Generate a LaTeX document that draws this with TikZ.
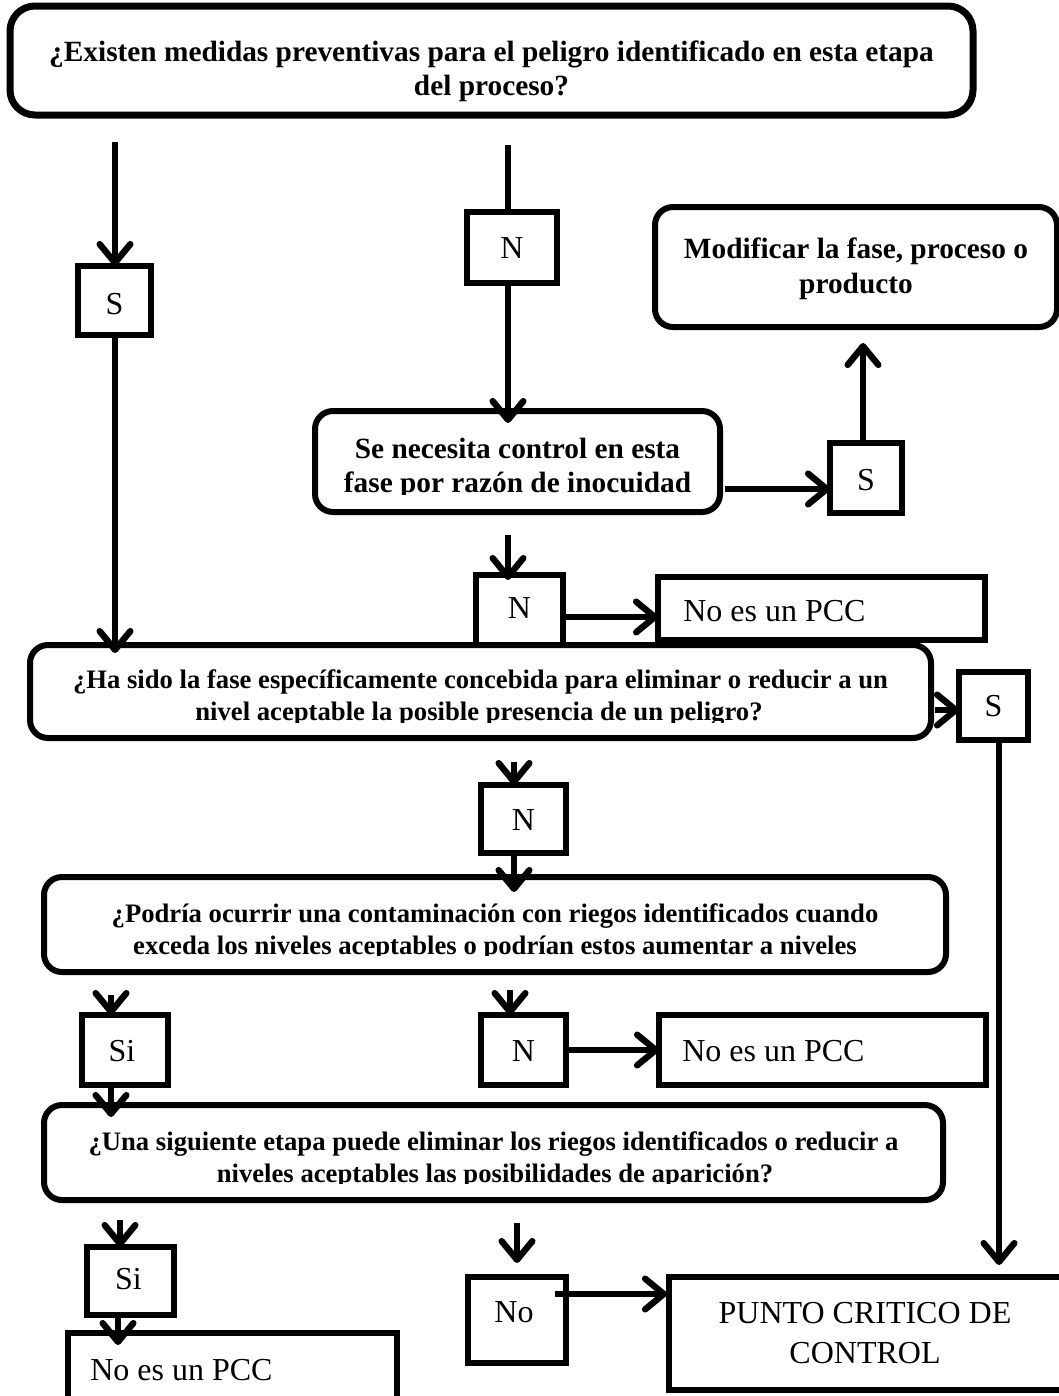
\documentclass[tikz,border=0pt]{standalone}
\usepackage{fontspec}
\setmainfont{Liberation Serif}
\usetikzlibrary{arrows.meta,calc,fit}
\begin{document}
\begin{tikzpicture}[x=0.75pt,y=-0.75pt,
  rbox/.style={draw, line width=4.5pt, rounded corners=13.5pt, inner sep=0pt, outer sep=0pt},
  sbox/.style={draw, line width=4.8pt, inner sep=0pt, outer sep=0pt},
  boxlbl/.style={inner sep=0pt, font=\fontsize{24}{28}\selectfont},
  qtext/.style={anchor=base, inner sep=0pt, font=\bfseries\fontsize{22}{26}\selectfont},
  qtextsm/.style={anchor=base, inner sep=0pt, font=\bfseries\fontsize{20}{24}\selectfont},
  pcctext/.style={anchor=west, inner sep=0pt, font=\fontsize{24}{28}\selectfont},
  conn/.style={line width=3.9pt},
  arr/.style={conn, -{Straight Barb[length=14pt,width=23pt,line width=4.8pt,round]}},
]
\fill[white] (0,0) rectangle (1059,1396);
\clip (0,0) rectangle (1059,1396);

% ---- boxes ----
\node[rbox, line width=5.25pt, rounded corners=18.75pt, fit={(10,6) (973,115)}] (q1) {};
\node[rbox, fit={(655,207) (1057,327)}] (m) {};
\node[rbox, fit={(315,411) (720,512)}] (q2) {};
\node[sbox, fit={(78,266) (151,335)}] (s1) {};
\node[sbox, fit={(467,212) (557,283)}] (n1) {};
\node[sbox, fit={(830,443) (902,513)}] (s2) {};
\node[sbox, fit={(476,575) (563,645)}] (n2) {};
\node[sbox, line width=3.9pt, fit={(658,577) (985,640)}] (p1) {};
\node[rbox, fit={(30,645) (931,738)}] (q3) {};
\node[sbox, fit={(959,672) (1028,740)}] (s3) {};
\node[sbox, fit={(481,785) (566,853)}] (n3) {};
\node[rbox, fit={(44,877) (946,972)}] (q4) {};
\node[sbox, fit={(82,1015) (168,1085)}] (si1) {};
\node[sbox, fit={(481,1015) (566,1085)}] (n4) {};
\node[sbox, line width=3.9pt, fit={(659,1015) (986,1085)}] (p2) {};
\node[rbox, fit={(44,1105) (943,1200)}] (q5) {};
\node[sbox, fit={(87,1247) (174,1315)}] (si2) {};
\node[sbox, fit={(468,1277) (566,1363)}] (no) {};
\node[sbox, fit={(68,1333) (397,1410)}] (p3) {};
\node[sbox, fit={(669,1277) (1075,1390)}] (pc) {};

% ---- small box labels ----
\node[boxlbl] (s1t) at ($(s1.center)+(0,4)$) {S};
\node[boxlbl] (n1t) at ($(n1.center)+(0,1)$) {N};
\node[boxlbl] (s2t) at ($(s2.center)+(0,2)$) {S};
\node[boxlbl] (n2t) at ($(n2.center)+(0,-2)$) {N};
\node[boxlbl] (s3t) at ($(s3.center)+(0,0)$) {S};
\node[boxlbl] (n3t) at ($(n3.center)+(0,1)$) {N};
\node[boxlbl] (si1t) at ($(si1.center)+(-3,1)$) {Si};
\node[boxlbl] (n4t) at ($(n4.center)+(0,1)$) {N};
\node[boxlbl] (si2t) at ($(si2.center)+(-2,-2)$) {Si};
\node[boxlbl] (not) at ($(no.center)+(-3,-8)$) {No};

% ---- texts ----
\node[qtext] (q1a) at (491.5,61) {¿Existen medidas preventivas para el peligro identificado en esta etapa};
\node[qtext] (q1b) at (491.5,95) {del proceso?};
\node[qtext] (ma) at (856,258) {Modificar la fase, proceso o};
\node[qtext] (mb) at (856,293) {producto};
\begin{scope}
  \clip (0,0) rectangle (1059,494);
  \node[qtext] (q2a) at (517.5,458) {Se necesita control en esta};
  \node[qtext] (q2b) at (517.5,492) {fase por razón de inocuidad};
\end{scope}
\node[pcctext] (p1t) at ($(p1.west)+(25,3)$) {No es un PCC};
\begin{scope}
  \clip (0,0) rectangle (1059,722);
  \node[qtextsm] (q3a) at (480.5,688) {¿Ha sido la fase específicamente concebida para eliminar o reducir a un};
  \node[qtextsm] (q3b) at (479,720) {nivel aceptable la posible presencia de un peligro?};
\end{scope}
\begin{scope}
  \clip (0,0) rectangle (1059,955);
  \node[qtextsm] (q4a) at (495,922) {¿Podría ocurrir una contaminación con riegos identificados cuando};
  \node[qtextsm] (q4b) at (495,954) {exceda los niveles aceptables o podrían estos aumentar a niveles};
\end{scope}
\node[pcctext] (p2t) at ($(p2.west)+(23,1)$) {No es un PCC};
\begin{scope}
  \clip (0,0) rectangle (1059,1183);
  \node[qtextsm] (q5a) at (493.5,1150) {¿Una siguiente etapa puede eliminar los riegos identificados o reducir a};
  \node[qtextsm] (q5b) at (495,1182) {niveles aceptables las posibilidades de aparición?};
\end{scope}
\node[pcctext, anchor=base west] (p3t) at (90,1380) {No es un PCC};
\node[pcctext, anchor=base] (pca) at (865,1323) {PUNTO CRITICO DE};
\node[pcctext, anchor=base] (pcb) at (865,1363) {CONTROL};

% ---- connectors ----
\draw[arr] ($(q1.south -| s1.north)+(0.5,27)$) -- ($(s1.north)+(0.5,0)$);
\draw[arr] ($(s1.south)+(0.5,0)$) -- ($(s1.south |- q3.north)+(0.5,8)$);
\draw[conn] ($(n1.north |- q1.south)+(-4,30)$) -- ($(n1.north)+(-4,0)$);
\draw[arr] ($(n1.south)+(-4,0)$) -- ($(n1.south |- q2.north)+(-4,12)$);
\draw[arr] ($(q2.east)+(5,27.5)$) -- ($(s2.west)+(0,11)$);
\draw[arr] ($(s2.north)+(-3,0)$) -- ($(m.south)+(7,16)$);
\draw[arr] ($(n2.north |- q2.south)+(-11.5,23)$) -- ($(n2.north)+(-11.5,5)$);
\draw[arr] ($(n2.east)+(0,7)$) -- ($(p1.west)+(0,8.5)$);
\draw[arr] ($(q3.east)+(4,18.5)$) -- ($(s3.west)+(0,4)$);
\draw[arr] ($(s3.south)+(5.5,0)$) -- ($(s3.south |- pc.north)+(5.5,-12)$);
\draw[arr] ($(n3.north |- q3.south)+(-9.5,24)$) -- ($(n3.north)+(-9.5,0)$);
\draw[arr] ($(n3.south)+(-9.5,0)$) -- ($(n3.south |- q4.north)+(-9.5,15)$);
\draw[arr] ($(si1.north |- q4.south)+(-14,23)$) -- ($(si1.north)+(-14,0)$);
\draw[arr] ($(si1.south)+(-14,0)$) -- ($(si1.south |- q5.north)+(-14,12)$);
\draw[arr] ($(n4.north |- q4.south)+(-13.5,18)$) -- ($(n4.north)+(-13.5,0)$);
\draw[arr] (n4.east) -- (n4.east -| p2.west);
\draw[arr] ($(si2.north |- q5.south)+(-10.5,20)$) -- ($(si2.north)+(-10.5,0)$);
\draw[arr] ($(si2.south)+(-12.5,0)$) -- ($(si2.south |- p3.north)+(-12.5,12)$);
\draw[arr] ($(no.north |- q5.south)+(0,23)$) -- ($(no.north)+(0,-14)$);
\draw[arr] ($(no.east)+(-11,-26)$) -- ($(no.east -| pc.west)+(-2,-26)$);
\end{tikzpicture}
\end{document}
